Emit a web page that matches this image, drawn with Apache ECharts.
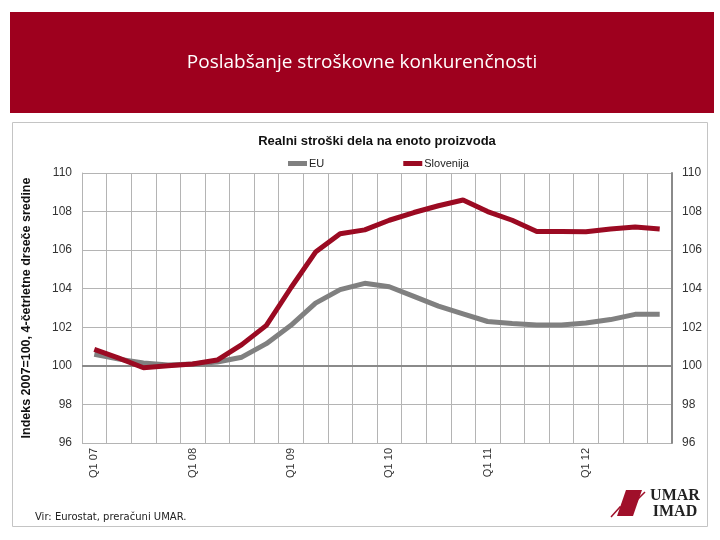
<!DOCTYPE html>
<html><head><meta charset="utf-8">
<script src="https://cdn.jsdelivr.net/npm/echarts@6/dist/echarts.min.js"></script>
<style>html,body{margin:0;padding:0;background:#fff}#c{width:720px;height:540px}</style>
</head><body><div id="c"></div>
<script>
const categories = ["Q1 07","Q2 07","Q3 07","Q4 07","Q1 08","Q2 08","Q3 08","Q4 08","Q1 09","Q2 09","Q3 09","Q4 09","Q1 10","Q2 10","Q3 10","Q4 10","Q1 11","Q2 11","Q3 11","Q4 11","Q1 12","Q2 12","Q3 12","Q4 12"];
const euValues = [100.6,100.35,100.15,100.05,100.1,100.2,100.45,101.15,102.1,103.25,103.95,104.28,104.1,103.6,103.1,102.7,102.3,102.2,102.12,102.12,102.22,102.4,102.67,102.67];
const sloValues = [100.85,100.4,99.9,100.0,100.1,100.3,101.1,102.1,104.05,105.9,106.85,107.05,107.55,107.95,108.3,108.6,108.0,107.55,106.97,106.97,106.95,107.1,107.2,107.1];
const yTicks = [96,98,100,102,104,106,108,110];
const titleText = "Poslabšanje stroškovne konkurenčnosti";
const chartTitle = "Realni stroški dela na enoto proizvoda";
const yName = "Indeks 2007=100, 4-četrletne drseče sredine";
const sourceText = "Vir: Eurostat, preračuni UMAR.";

const chart = echarts.init(document.getElementById('c'), null, {renderer:'canvas'});
const lblFont = 'Liberation Sans, Arial, sans-serif';
chart.setOption({
  animation:false,
  backgroundColor:'#fff',
  graphic:[
    {type:'rect', shape:{x:10,y:12,width:704,height:101}, style:{fill:'#9E001E'}, z:0},
    {type:'text', x:362, y:63, style:{text:titleText, fill:'#fff', font:'19px "Open Sans", sans-serif', textAlign:'center', textVerticalAlign:'middle'}},
    {type:'rect', shape:{x:12.5,y:122.5,width:695,height:404}, style:{fill:'none', stroke:'#c4c4c4', lineWidth:1}, z:0},
    {type:'text', x:35, y:517, style:{text:sourceText, fill:'#222', font:'10px "DejaVu Sans", sans-serif', textVerticalAlign:'middle'}},
    {type:'polygon', shape:{points:[[626,490],[642,490],[633,516],[617,516]]}, style:{fill:'#A0102A'}},
    {type:'polyline', shape:{points:[[611,517],[620,507],[628,511],[637,500],[645,492]]}, style:{stroke:'#A0102A', lineWidth:1.5, fill:'none'}},
    {type:'text', x:675, y:496, style:{text:'UMAR', fill:'#222', font:'bold 16px "Liberation Serif", serif', textAlign:'center', textVerticalAlign:'middle'}},
    {type:'text', x:675, y:512, style:{text:'IMAD', fill:'#222', font:'bold 16px "Liberation Serif", serif', textAlign:'center', textVerticalAlign:'middle'}}
  ],
  title:{text:chartTitle, left:372, top:130, textAlign:'center',
    textStyle:{fontFamily:lblFont, fontSize:13, fontWeight:'bold', color:'#111'}},
  legend:{left:283, top:153, itemWidth:19, itemHeight:5, itemGap:79, icon:'rect',
    textStyle:{fontFamily:lblFont, fontSize:11, color:'#222', padding:[0,0,0,-3]},
    data:['EU','Slovenija']},
  grid:{left:82, right:48, top:173, bottom:97},
  xAxis:{type:'category', data:categories, boundaryGap:true,
    axisLine:{show:false}, axisTick:{show:false},
    axisLabel:{interval:3, rotate:90, fontFamily:lblFont, fontSize:11, color:'#333', margin:5},
    splitLine:{show:true, interval:0, lineStyle:{color:'#b4b4b4', width:1}}},
  yAxis:[
    {type:'value', min:96, max:110, interval:2, position:'left',
     name:yName, nameLocation:'middle', nameGap:49,
     nameTextStyle:{fontFamily:lblFont, fontSize:12.5, fontWeight:'bold', color:'#111'},
     axisLine:{show:true, lineStyle:{color:'#b4b4b4', width:1}}, axisTick:{show:false},
     axisLabel:{fontFamily:lblFont, fontSize:12, color:'#333', margin:10, formatter:v=>yTicks.includes(v)?String(v):''},
     splitLine:{show:true, lineStyle:{color:'#b4b4b4', width:1}}},
    {type:'value', min:96, max:110, interval:2, position:'right',
     axisLine:{show:true, lineStyle:{color:'#8a8a8a', width:2}}, axisTick:{show:false},
     axisLabel:{fontFamily:lblFont, fontSize:12, color:'#333', margin:10},
     splitLine:{show:false}}
  ],
  series:[
    {name:'EU', type:'line', data:euValues, showSymbol:false, symbol:'none',
     lineStyle:{color:'#808080', width:5}, itemStyle:{color:'#808080'}, z:3,
     markLine:{silent:true, symbol:'none', label:{show:false}, lineStyle:{color:'#8a8a8a', width:2, type:'solid'}, data:[{yAxis:100}], z:1}},
    {name:'Slovenija', type:'line', data:sloValues, showSymbol:false, symbol:'none',
     lineStyle:{color:'#9B0A22', width:5}, itemStyle:{color:'#9B0A22'}, z:4}
  ]
});
</script></body></html>
